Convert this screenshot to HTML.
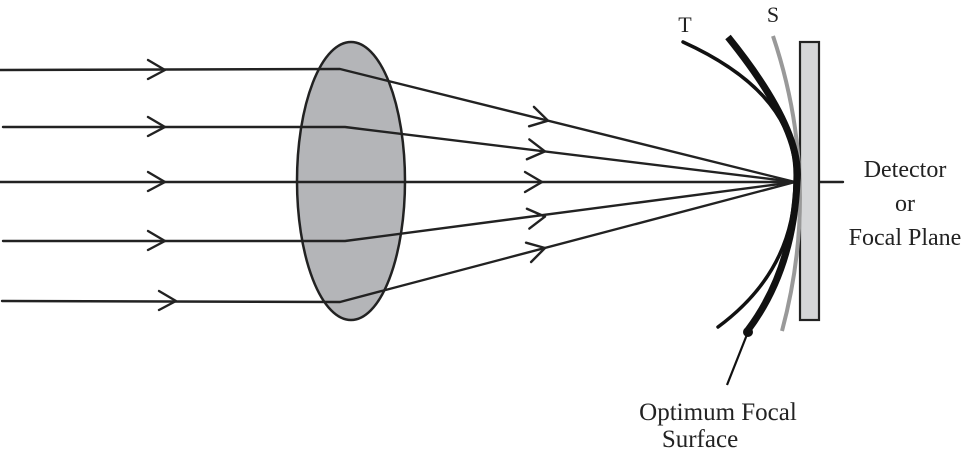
<!DOCTYPE html>
<html><head><meta charset="utf-8"><style>
html,body{margin:0;padding:0;background:#fff;}
svg{display:block;}
text{font-family:"Liberation Serif",serif;fill:#222;}
</style></head><body>
<svg width="969" height="453" viewBox="0 0 969 453" xmlns="http://www.w3.org/2000/svg">
<ellipse cx="351" cy="181" rx="54" ry="139" fill="#b4b5b8" stroke="#222" stroke-width="2.5"/>
<g stroke="#222" stroke-width="2.4" fill="none" stroke-linecap="round" stroke-linejoin="round">
<polyline points="0,70 340,69 795,182"/>
<polyline points="3,127 345,127 795,182"/>
<polyline points="0,182 795,182"/>
<polyline points="3,241 345,241 795,182"/>
<polyline points="2,301 340,302 795,182"/>
<line x1="819" y1="182" x2="843" y2="182"/>
<!-- left arrowheads -->
<polyline points="148,60 165,70 148,79"/>
<polyline points="148,117 165,127 148,136"/>
<polyline points="148,172 165,182 148,191"/>
<polyline points="148,231 165,241 148,250"/>
<polyline points="159,291 176,301 159,310"/>
<!-- right arrowheads -->
<g transform="translate(548,120.7) rotate(13.95)"><polyline points="-17,-10 0,0 -17,10"/></g>
<g transform="translate(545,151.4) rotate(6.97)"><polyline points="-17,-10 0,0 -17,10"/></g>
<g transform="translate(542,182)"><polyline points="-17,-10 0,0 -17,10"/></g>
<g transform="translate(545,216.6) rotate(-6.97)"><polyline points="-17,-10 0,0 -17,10"/></g>
<g transform="translate(545,248) rotate(-14.77)"><polyline points="-17,-10 0,0 -17,10"/></g>
</g>
<!-- detector -->
<rect x="800" y="42" width="19" height="278" fill="#d5d6d8" stroke="#222" stroke-width="2.2"/>
<!-- S gray curve -->
<path d="M773,36 Q822,182 782,331" stroke="#999" stroke-width="4" fill="none"/>
<!-- T curve -->
<path d="M683,42 Q800,95 795,182 Q795,270 718,327" stroke="#111" stroke-width="3.5" fill="none" stroke-linecap="round"/>
<!-- Optimum thick -->
<path d="M728,37 Q803,130 797,182 Q793,270 748,330" stroke="#111" stroke-width="7" fill="none"/>
<circle cx="748" cy="332" r="5" fill="#111"/>
<line x1="748" y1="332" x2="727" y2="385" stroke="#111" stroke-width="2.2"/>
<text x="685" y="32" font-size="22" text-anchor="middle">T</text>
<text x="773" y="22" font-size="22" text-anchor="middle">S</text>
<text x="905" y="177" font-size="24" text-anchor="middle">Detector</text>
<text x="905" y="211" font-size="24" text-anchor="middle">or</text>
<text x="905" y="245" font-size="24" text-anchor="middle">Focal Plane</text>
<text x="718" y="420" font-size="25" text-anchor="middle">Optimum Focal</text>
<text x="700" y="447" font-size="25" text-anchor="middle">Surface</text>
</svg>
</body></html>
